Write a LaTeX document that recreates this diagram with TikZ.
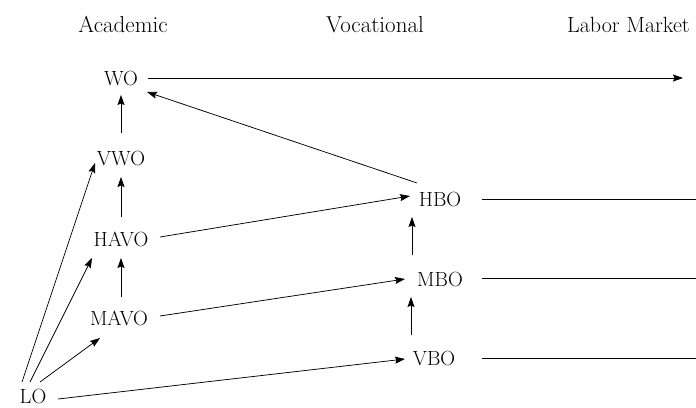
\documentclass[tikz,border=0pt]{standalone}
\usetikzlibrary{arrows.meta,calc}
\begin{document}
\begin{tikzpicture}[x=1pt,y=-1pt,
  lab/.style={inner sep=0pt,font=\fontsize{20.5}{24}\selectfont},
  head/.style={inner sep=0pt,anchor=base,font=\fontsize{23}{27}\selectfont},
  arr/.style={line width=0.75pt,-{Stealth[length=10pt,width=7pt,inset=1.5pt]}},
  ln/.style={line width=0.75pt}]
\clip (0,0) rectangle (696,407);
\fill[white] (0,0) rectangle (696,407);
% headings
\node[head] (acad) at (123,32) {Academic};
\node[head] (voc) at (375,32) {Vocational};
\node[head,anchor=base west,font=\fontsize{22}{26}\selectfont] (labm) at (567,32) {Labor Market};
% academic track
\node[lab] (WO) at (121,78) {WO};
\node[lab] (VWO) at (121,158) {VWO};
\node[lab] (HAVO) at (121,239) {HAVO};
\node[lab] (MAVO) at (119,318) {MAVO};
\node[lab] (LO) at (33,396) {LO};
% vocational track
\node[lab] (HBO) at (440,199) {HBO};
\node[lab] (MBO) at (440,279) {MBO};
\node[lab] (VBO) at (434,358) {VBO};
% free ends
\coordinate (eWO) at (683,78);
\coordinate (eHBO) at (700,199);
\coordinate (eMBO) at (700,278);
\coordinate (eVBO) at (700,358);
% vertical arrows
\draw[arr] ($(VWO)+(0,-25)$) -- ($(WO)+(0,17)$);
\draw[arr] ($(HAVO)+(0,-22)$) -- ($(VWO)+(0,19)$);
\draw[arr] ($(MAVO)+(2,-21)$) -- ($(HAVO)+(0,19)$);
\draw[arr] ($(MBO)+(-28,-24)$) -- ($(HBO)+(-28,18)$);
\draw[arr] ($(VBO)+(-23,-23)$) -- ($(MBO)+(-29,18)$);
% diagonal arrows
\draw[arr] ($(HBO)+(-23,-16)$) -- ($(WO)+(26,14)$);
\draw[arr] ($(HAVO)+(39,-2)$) -- ($(HBO)+(-30,-3)$);
\draw[arr] ($(MAVO)+(41,-2)$) -- ($(MBO)+(-35,0)$);
\draw[arr] ($(LO)+(25,3)$) -- ($(VBO)+(-29,1)$);
\draw[arr] ($(LO)+(7,-14)$) -- ($(MAVO)+(-19,20)$);
\draw[arr] ($(LO)+(-3,-14)$) -- ($(HAVO)+(-29,19)$);
\draw[arr] ($(LO)+(-11,-14)$) -- ($(VWO)+(-26,5)$);
% to labor market
\draw[arr] ($(WO)+(27,0)$) -- (eWO);
\draw[ln] ($(HBO)+(42,0)$) -- (eHBO);
\draw[ln] ($(MBO)+(42,-1)$) -- (eMBO);
\draw[ln] ($(VBO)+(48,0)$) -- (eVBO);
\end{tikzpicture}
\end{document}
